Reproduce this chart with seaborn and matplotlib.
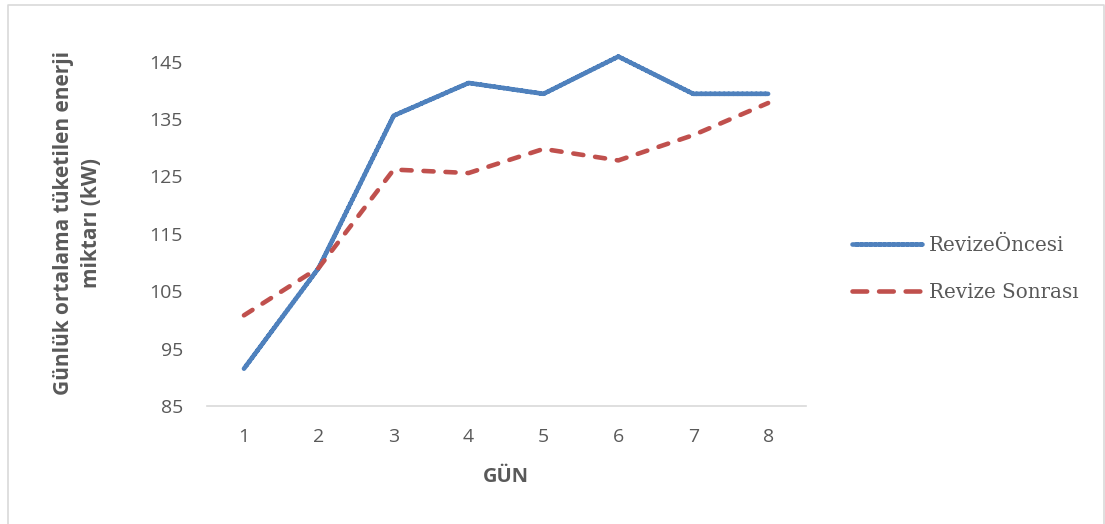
import matplotlib
matplotlib.use("Agg")
import matplotlib.pyplot as plt
import pandas as pd
import seaborn as sns

## Data
gun = [1, 2, 3, 4, 5, 6, 7, 8]
revize_oncesi = [91.5, 109.1, 135.6, 141.3, 139.4, 145.9, 139.4, 139.4]
revize_sonrasi = [100.8, 109.1, 126.2, 125.6, 129.8, 127.8, 132.2, 137.8]
seri_adlari = ["RevizeÖncesi", "Revize Sonrası"]
y_ticks = [85, 95, 105, 115, 125, 135, 145]

df = pd.DataFrame({"GÜN": gun, seri_adlari[0]: revize_oncesi, seri_adlari[1]: revize_sonrasi})
df = df.melt(id_vars="GÜN", var_name="seri", value_name="deger")

sns.set_style("white")
plt.rcParams["font.family"] = ["Open Sans", "DejaVu Sans"]

gray = "#595959"
lw = 3.3
fig = plt.figure(figsize=(11.05, 5.24), dpi=100)
ax = fig.add_axes([0.1869, 0.2252, 0.5421, 0.7118])

sns.lineplot(data=df, x="GÜN", y="deger", hue="seri", style="seri",
             palette=["#4F81BD", "#C0504D"], dashes=[(1, 0), (2.2, 2.6)],
             ax=ax)
for ln in ax.get_lines():
    ln.set_linewidth(lw)
    ln.set_solid_capstyle("round")
    ln.set_dash_capstyle("round")
    ln.set_solid_joinstyle("round")

ax.set_xlim(0.5, 8.5)
ax.set_ylim(85, 150)
ax.set_xticks(gun)
ax.set_yticks(y_ticks)
ax.tick_params(axis="both", length=0, labelsize=14, colors=gray)
ax.tick_params(axis="x", pad=16)
ax.tick_params(axis="y", pad=17)

for s in ["top", "right", "left"]:
    ax.spines[s].set_visible(False)
ax.spines["bottom"].set_color("#D9D9D9")
ax.spines["bottom"].set_linewidth(1.2)

ax.set_xlabel("GÜN", fontsize=14.5, fontweight="bold", color=gray)
ax.xaxis.set_label_coords(0.5, -0.164)
ax.set_ylabel("Günlük ortalama tüketilen enerji\nmiktarı (kW)", fontsize=15,
              fontweight="bold", color=gray, linespacing=1.42)
ax.yaxis.set_label_coords(-0.175, 0.49)

leg = ax.legend(loc="center left", bbox_to_anchor=(1.078, 0.368), frameon=False,
                prop={"family": "DejaVu Serif", "size": 14.3}, handlelength=3.52,
                labelspacing=1.43, handletextpad=0.35, borderpad=0, borderaxespad=0)
for t in leg.get_texts():
    t.set_color(gray)
for i, h in enumerate(leg.get_lines()):
    h.set_linewidth(lw)
    h.set_solid_capstyle("round")
    h.set_dash_capstyle("round")
    if i == 1:
        h.set_dashes((3.2, 2.6))

# chart border
fig.add_artist(plt.Line2D([0.0075, 0.0075, 0.999, 0.999], [0.0, 0.990, 0.990, 0.0],
                          transform=fig.transFigure, color="#D9D9D9", linewidth=1.2))

fig.savefig("out.png", dpi=100, facecolor="white")
